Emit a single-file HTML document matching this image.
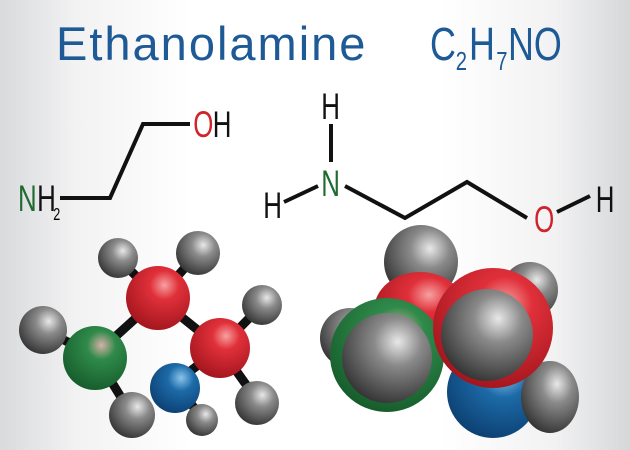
<!DOCTYPE html>
<html><head><meta charset="utf-8"><style>
html,body{margin:0;padding:0;width:630px;height:450px;overflow:hidden}
body{background:linear-gradient(90deg,#d9dadc 0%,#f2f2f3 12%,#fff 30%,#fff 70%,#f2f2f3 88%,#d6d7d9 100%)}
svg{display:block}
</style></head><body>
<svg width="630" height="450" viewBox="0 0 630 450" xmlns="http://www.w3.org/2000/svg">
<defs>
<radialGradient id="g" cx="0.62" cy="0.32" r="0.75"><stop offset="0" stop-color="#e8e8e8"/><stop offset="0.35" stop-color="#8a8a8a"/><stop offset="1" stop-color="#2e2e2e"/></radialGradient>
<radialGradient id="r" cx="0.6" cy="0.3" r="0.75"><stop offset="0" stop-color="#f7a0a0"/><stop offset="0.3" stop-color="#e0303a"/><stop offset="1" stop-color="#a0141c"/></radialGradient>
<radialGradient id="gr" cx="0.6" cy="0.3" r="0.75"><stop offset="0" stop-color="#d6b0a8"/><stop offset="0.3" stop-color="#2f8a4a"/><stop offset="1" stop-color="#155a2a"/></radialGradient>
<radialGradient id="b" cx="0.62" cy="0.3" r="0.75"><stop offset="0" stop-color="#8ac4ea"/><stop offset="0.35" stop-color="#1c6aa8"/><stop offset="1" stop-color="#0c3f70"/></radialGradient>
</defs>
<g font-family="Liberation Sans, sans-serif" fill="#1d5a96">
<text x="56" y="60" font-size="47" letter-spacing="2">Ethanolamine</text>
<g transform="translate(430,60) scale(0.78,1)"><text x="0" y="0" font-size="46">C</text><text x="33" y="10" font-size="26">2</text><text x="50" y="0" font-size="46">H</text><text x="85" y="10" font-size="26">7</text><text x="100" y="0" font-size="46">NO</text></g>
</g>
<g stroke="#111" stroke-width="4" fill="none" stroke-linejoin="miter">
<polyline points="60,198 110,198 143,124 190,124"/>
<line x1="331" y1="124" x2="331" y2="162"/>
<line x1="284" y1="202" x2="318" y2="186"/>
<polyline points="345,186 405,218 467,182 527,218"/>
<line x1="557" y1="212" x2="590" y2="196"/>
</g>
<g font-family="Liberation Sans, sans-serif" font-size="37">
<g transform="scale(0.7,1)">
<text x="25.7" y="211" fill="#1f6b32">N</text><text x="53" y="211" fill="#111">H</text>
<text x="276" y="137" fill="#d0232b">O</text><text x="304" y="137" fill="#111">H</text>
<text x="459" y="119" fill="#111">H</text>
<text x="459" y="196" fill="#1f6b32">N</text>
<text x="376" y="218" fill="#111">H</text>
<text x="763" y="232" fill="#d0232b">O</text>
<text x="851" y="212" fill="#111">H</text>
<text x="76" y="220" font-size="18">2</text>
</g>
</g>
<g stroke="#111" stroke-width="9" stroke-linecap="round">
<line x1="43" y1="330" x2="95" y2="355"/><line x1="95" y1="355" x2="132" y2="415"/>
<line x1="95" y1="355" x2="158" y2="298"/><line x1="158" y1="298" x2="118" y2="258"/>
<line x1="158" y1="298" x2="198" y2="253"/><line x1="158" y1="298" x2="220" y2="348"/>
<line x1="220" y1="348" x2="262" y2="305"/><line x1="220" y1="348" x2="257" y2="400"/>
<line x1="220" y1="348" x2="175" y2="383"/><line x1="175" y1="383" x2="202" y2="418"/>
</g>
<circle cx="118" cy="258" r="20" fill="url(#g)"/><circle cx="198" cy="253" r="22" fill="url(#g)"/>
<circle cx="43" cy="330" r="24" fill="url(#g)"/><circle cx="262" cy="305" r="20" fill="url(#g)"/>
<circle cx="158" cy="298" r="32" fill="url(#r)"/>
<circle cx="95" cy="358" r="32" fill="url(#gr)"/>
<circle cx="220" cy="348" r="30" fill="url(#r)"/>
<circle cx="175" cy="388" r="25" fill="url(#b)"/>
<circle cx="257" cy="403" r="22" fill="url(#g)"/><circle cx="132" cy="415" r="23" fill="url(#g)"/>
<circle cx="202" cy="420" r="16" fill="url(#g)"/>
<circle cx="421" cy="262" r="37" fill="url(#g)"/>
<circle cx="530" cy="290" r="28" fill="url(#g)"/>
<circle cx="350" cy="338" r="30" fill="url(#g)"/>
<ellipse cx="420" cy="310" rx="46" ry="38" fill="url(#r)"/>
<circle cx="493" cy="392" r="46" fill="url(#b)"/>
<ellipse cx="550" cy="397" rx="29" ry="36" fill="url(#g)"/>
<circle cx="387" cy="355" r="57" fill="url(#gr)"/>
<circle cx="387" cy="358" r="45" fill="url(#g)"/>
<circle cx="493" cy="328" r="60" fill="url(#r)"/>
<circle cx="487" cy="335" r="46" fill="url(#g)"/>
</svg>
</body></html>
